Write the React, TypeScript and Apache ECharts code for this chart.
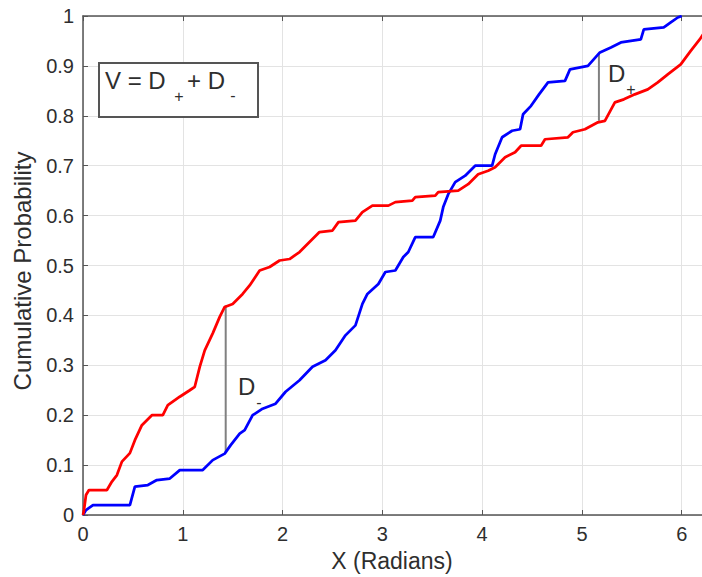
import React, { useEffect, useRef } from "react";
import * as echarts from "echarts";

const redPoints: [number, number][] = [
  [0, 0], [0.01, 0.01], [0.03, 0.04], [0.06, 0.05], [0.24, 0.05], [0.29, 0.067],
  [0.34, 0.08], [0.39, 0.107], [0.47, 0.124], [0.52, 0.15], [0.59, 0.18], [0.69, 0.2],
  [0.8, 0.2], [0.85, 0.22], [0.97, 0.237], [1.07, 0.25], [1.12, 0.257], [1.17, 0.297],
  [1.22, 0.33], [1.3, 0.364], [1.37, 0.397], [1.42, 0.417], [1.5, 0.423], [1.6, 0.443],
  [1.67, 0.46], [1.77, 0.49], [1.87, 0.497], [1.97, 0.51], [2.07, 0.513], [2.17, 0.527],
  [2.27, 0.547], [2.37, 0.567], [2.5, 0.57], [2.56, 0.587], [2.73, 0.59], [2.8, 0.607],
  [2.9, 0.62], [3.06, 0.62], [3.13, 0.627], [3.3, 0.63], [3.33, 0.637], [3.53, 0.64],
  [3.56, 0.647], [3.76, 0.65], [3.86, 0.663], [3.96, 0.683], [4.06, 0.69], [4.13, 0.697],
  [4.23, 0.717], [4.33, 0.727], [4.39, 0.74], [4.59, 0.74], [4.63, 0.753], [4.86, 0.757],
  [4.91, 0.767], [5.03, 0.773], [5.16, 0.787], [5.23, 0.79], [5.33, 0.827], [5.42, 0.833],
  [5.53, 0.843], [5.66, 0.853], [5.76, 0.867], [5.86, 0.883], [5.99, 0.903], [6.09, 0.93],
  [6.18, 0.953], [6.27, 0.98],
];

// Empirical CDF of sample 2 (blue)
const bluePoints: [number, number][] = [
  [0, 0], [0.03, 0.01], [0.1, 0.02], [0.47, 0.02], [0.52, 0.057], [0.65, 0.06],
  [0.74, 0.07], [0.87, 0.073], [0.97, 0.09], [1.2, 0.09], [1.3, 0.11], [1.42, 0.123],
  [1.48, 0.14], [1.57, 0.163], [1.62, 0.17], [1.7, 0.2], [1.8, 0.213], [1.93, 0.223],
  [2.03, 0.247], [2.17, 0.27], [2.3, 0.297], [2.43, 0.31], [2.53, 0.33], [2.63, 0.36],
  [2.73, 0.38], [2.8, 0.423], [2.85, 0.443], [2.96, 0.463], [3.03, 0.487], [3.13, 0.49],
  [3.21, 0.517], [3.26, 0.527], [3.33, 0.557], [3.51, 0.557], [3.58, 0.59], [3.61, 0.617],
  [3.66, 0.643], [3.73, 0.667], [3.83, 0.68], [3.93, 0.7], [4.1, 0.7], [4.13, 0.723],
  [4.2, 0.757], [4.3, 0.77], [4.38, 0.773], [4.41, 0.803], [4.49, 0.82], [4.57, 0.843],
  [4.66, 0.867], [4.83, 0.87], [4.88, 0.893], [5.06, 0.9], [5.18, 0.927], [5.29, 0.937],
  [5.39, 0.947], [5.59, 0.953], [5.62, 0.973], [5.82, 0.977], [5.89, 0.987], [5.96, 0.997],
  [6.0, 1],
];

// Vertical distance markers
const dMinusSegment: [number, number][] = [[1.43, 0.42], [1.43, 0.125]];
const dPlusSegment: [number, number][] = [[5.17, 0.925], [5.17, 0.79]];

const xTicks = [0, 1, 2, 3, 4, 5, 6];
const xMax = 2 * Math.PI;
const yMax = 1;

const FONT = "'Liberation Sans', Arial, Helvetica, sans-serif";
const TEXT = "#2e2e2e";
const AXIS = "#555555";

export default function App() {
  const ref = useRef<HTMLDivElement>(null);

  useEffect(() => {
    if (!ref.current) return;
    const chart = echarts.init(ref.current, undefined, { renderer: "svg" });

    const axisCommon = {
      type: "value" as const,
      axisLine: { show: true, onZero: false, lineStyle: { color: AXIS, width: 1.5 } },
      axisTick: { show: true, inside: true, length: 5, lineStyle: { color: AXIS, width: 1 } },
    };

    const subText = (x: number, y: number, t: string) => ({
      type: "text",
      x,
      y,
      silent: true,
      style: { text: t, fontSize: 16, fontFamily: FONT, fill: TEXT, align: "center", verticalAlign: "middle" },
    });
    const mainText = (x: number, y: number, t: string, size = 24) => ({
      type: "text",
      x,
      y,
      silent: true,
      style: { text: t, fontSize: size, fontFamily: FONT, fill: TEXT, align: "left", verticalAlign: "middle" },
    });

    chart.setOption({
      animation: false,
      backgroundColor: "#ffffff",
      grid: { left: 83, right: 0, top: 16, bottom: 62, containLabel: false },
      xAxis: [
        {
          ...axisCommon,
          position: "bottom",
          min: 0,
          max: xMax,
          interval: 1,
          axisLabel: {
            show: true,
            margin: 9,
            fontSize: 20,
            fontFamily: FONT,
            color: TEXT,
            formatter: (v: number) => (xTicks.includes(v) ? String(v) : ""),
          },
          splitLine: { show: true, lineStyle: { color: "#e3e3e3", width: 1 } },
        },
        {
          ...axisCommon,
          position: "top",
          min: 0,
          max: xMax,
          interval: 1,
          axisLabel: { show: false },
          splitLine: { show: false },
        },
      ],
      yAxis: {
        ...axisCommon,
        min: 0,
        max: yMax,
        interval: 0.1,
        axisLabel: {
          show: true,
          margin: 9,
          fontSize: 20,
          fontFamily: FONT,
          color: TEXT,
          formatter: (v: number) => String(Math.round(v * 10) / 10),
        },
        splitLine: { show: true, lineStyle: { color: "#e3e3e3", width: 1 } },
      },
      series: [
        {
          type: "line",
          data: dMinusSegment,
          symbol: "none",
          lineStyle: { color: "#808080", width: 2 },
          z: 2,
        },
        {
          type: "line",
          data: dPlusSegment,
          symbol: "none",
          lineStyle: { color: "#808080", width: 2 },
          z: 2,
        },
        {
          type: "line",
          data: bluePoints,
          symbol: "none",
          lineStyle: { color: "#0000ff", width: 2.75 },
          z: 3,
        },
        {
          type: "line",
          data: redPoints,
          symbol: "none",
          lineStyle: { color: "#ff0000", width: 2.75 },
          z: 3,
        },
      ],
      graphic: [
        {
          type: "rect",
          shape: { x: 99, y: 63, width: 159, height: 54 },
          style: { fill: "#ffffff", stroke: AXIS, lineWidth: 2 },
          z: 10,
        },
        { ...mainText(105, 80, "V = D"), z: 11 },
        { ...subText(179, 96, "+"), z: 11 },
        { ...mainText(187, 80, "+ D"), z: 11 },
        { ...subText(233, 95, "-"), z: 11 },
        { ...mainText(238, 386, "D"), z: 11 },
        { ...subText(259, 402, "-"), z: 11 },
        { ...mainText(608, 73, "D"), z: 11 },
        { ...subText(631, 89, "+"), z: 11 },
        {
          type: "text",
          x: 392,
          y: 561,
          silent: true,
          style: { text: "X (Radians)", fontSize: 23, fontFamily: FONT, fill: TEXT, align: "center", verticalAlign: "middle" },
        },
        {
          type: "text",
          x: 22,
          y: 271,
          rotation: Math.PI / 2,
          silent: true,
          style: { text: "Cumulative Probability", fontSize: 24, fontFamily: FONT, fill: TEXT, align: "center", verticalAlign: "middle" },
        },
      ],
    });

    return () => chart.dispose();
  }, []);

  return (
    <div style={{ position: "fixed", left: 0, top: 0, width: 702, height: 577, overflow: "hidden", background: "#fff" }}>
      <div ref={ref} style={{ width: 713, height: 577 }} />
    </div>
  );
}
